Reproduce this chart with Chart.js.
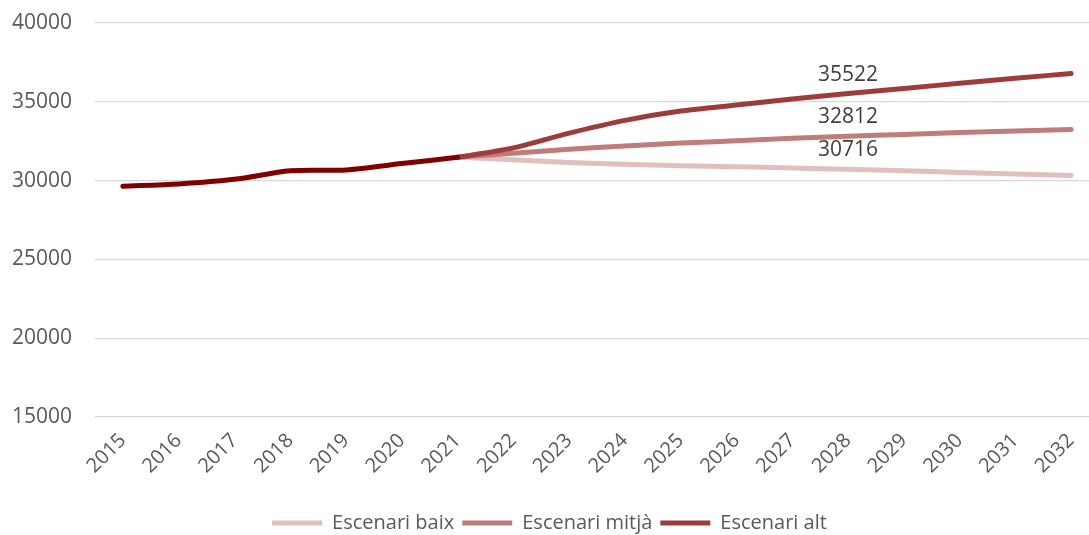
<!DOCTYPE html>
<html>
<head>
<meta charset="utf-8">
<script src="https://cdn.jsdelivr.net/npm/chart.js@4/dist/chart.umd.min.js"></script>
<style>
  html, body { margin: 0; padding: 0; background: #fff; overflow: hidden; }
  #wrap { width: 1130px; height: 535px; }
</style>
</head>
<body>
<div id="wrap"><canvas id="poblacio" width="1130" height="535"></canvas></div>
<script>
const years = ['2015', '2016', '2017', '2018', '2019', '2020', '2021', '2022', '2023',
    '2024', '2025', '2026', '2027', '2028', '2029', '2030', '2031', '2032'];

// observed series up to 2021, scenarios start from the 2021 value
const historic = [29640, 29790, 30080, 30620, 30680, 31080, 31480,
    null, null, null, null, null, null, null, null, null, null, null];
const baix = [null, null, null, null, null, null, 31480,
    31320, 31150, 31040, 30950, 30880, 30800, 30716, 30620, 30520, 30420, 30330];
const mitja = [null, null, null, null, null, null, 31480,
    31740, 31990, 32200, 32380, 32530, 32680, 32812, 32930, 33050, 33150, 33250];
const alt = [null, null, null, null, null, null, 31480,
    32080, 33010, 33820, 34410, 34800, 35180, 35522, 35850, 36170, 36490, 36800];

const yTicks = [15000, 20000, 25000, 30000, 35000, 40000];
const labelYear = '2028';

const textColor = '#595959';
const font = "'Open Sans', 'Liberation Sans', sans-serif";

// writes the scenario value above the point of the labelled year
const valueLabels = {
    id: 'valueLabels',
    afterDatasetsDraw(chart) {
        const ctx = chart.ctx;
        const idx = years.indexOf(labelYear);
        ctx.save();
        ctx.font = '21px ' + font;
        ctx.fillStyle = '#404040';
        ctx.textAlign = 'center';
        ctx.textBaseline = 'middle';
        chart.data.datasets.forEach((ds, i) => {
            if (!ds.showValue) return;
            const pt = chart.getDatasetMeta(i).data[idx];
            ctx.fillText(String(ds.data[idx]), pt.x, pt.y - 19);
        });
        ctx.restore();
    }
};

const line = (label, data, color, order, showValue) => ({
    label, data, order, showValue,
    borderColor: color,
    backgroundColor: color,
    borderWidth: 5,
    borderCapStyle: 'round',
    borderJoinStyle: 'round',
    pointRadius: 0,
    pointHoverRadius: 0,
    tension: 0.3,
    spanGaps: false,
    fill: false
});

new Chart(document.getElementById('poblacio'), {
    type: 'line',
    data: {
        labels: years,
        datasets: [
            line('Històric', historic, '#800000', 0, false),
            line('Escenari baix', baix, '#e0bfbf', 3, true),
            line('Escenari mitjà', mitja, '#c07b7b', 2, true),
            line('Escenari alt', alt, '#9e3c3c', 1, true)
        ]
    },
    options: {
        responsive: false,
        animation: false,
        layout: { padding: { left: 0, top: 23, right: 31, bottom: -8 } },
        scales: {
            x: {
                offset: true,
                grid: { display: false },
                border: { display: false },
                ticks: {
                    color: textColor,
                    font: { family: font, size: 20 },
                    minRotation: 45,
                    maxRotation: 45,
                    autoSkip: false,
                    padding: 4
                },
                afterFit(scale) { scale.height = 88; }
            },
            y: {
                min: 15000,
                max: 40000,
                afterBuildTicks(scale) { scale.ticks = yTicks.map(v => ({ value: v })); },
                grid: { color: '#d9d9d9', lineWidth: 1.3, drawTicks: false },
                border: { display: false },
                ticks: {
                    color: textColor,
                    font: { family: font, size: 21 },
                    padding: 23,
                    callback: v => String(v)
                },
                afterFit(scale) {
                    scale.width = 95;
                    scale.paddingTop = 0;
                    scale.paddingBottom = 0;
                }
            }
        },
        plugins: {
            tooltip: { enabled: false },
            legend: {
                position: 'bottom',
                labels: {
                    filter: item => item.datasetIndex > 0,
                    sort: (a, b) => a.datasetIndex - b.datasetIndex,
                    usePointStyle: true,
                    pointStyle: 'line',
                    pointStyleWidth: 50,
                    boxHeight: 20,
                    color: textColor,
                    font: { family: font, size: 20 },
                    padding: 8
                }
            }
        }
    },
    plugins: [valueLabels]
});
</script>
</body>
</html>
